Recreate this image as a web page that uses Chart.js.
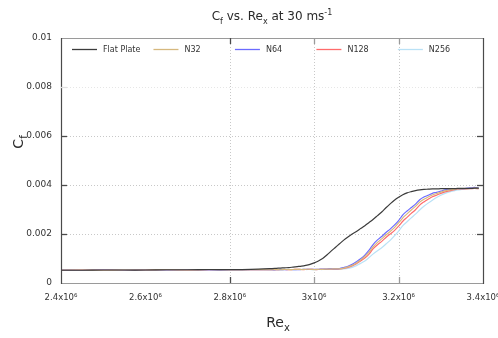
<!DOCTYPE html>
<html>
<head>
<meta charset="utf-8">
<script src="https://cdn.jsdelivr.net/npm/chart.js@4"></script>
<style>
  html, body { margin: 0; padding: 0; background: #fff; }
  #wrap { width: 498px; height: 338px; }
</style>
</head>
<body>
<div id="wrap"><canvas id="c" width="498" height="338"></canvas></div>
<script>
// Reynolds number stations along the plate
const reX = [
  2.40e6, 2.45e6, 2.50e6, 2.55e6, 2.60e6, 2.65e6, 2.70e6, 2.75e6, 2.80e6, 2.85e6,
  2.90e6, 2.91e6, 2.92e6, 2.93e6, 2.94e6, 2.95e6, 2.96e6, 2.97e6, 2.98e6, 2.99e6,
  3.00e6, 3.01e6, 3.02e6, 3.03e6, 3.04e6, 3.05e6, 3.06e6, 3.07e6, 3.08e6, 3.09e6,
  3.10e6, 3.11e6, 3.12e6, 3.13e6, 3.14e6, 3.15e6, 3.16e6, 3.17e6, 3.18e6, 3.19e6,
  3.20e6, 3.21e6, 3.22e6, 3.23e6, 3.24e6, 3.25e6, 3.26e6, 3.27e6, 3.28e6, 3.29e6,
  3.30e6, 3.31e6, 3.32e6, 3.33e6, 3.34e6, 3.35e6, 3.36e6, 3.37e6, 3.38e6, 3.39e6
];

// Skin friction coefficient, one list per case
const cfFlatPlate = [
  0.00052, 0.00052, 0.00053, 0.00053, 0.00053, 0.00054, 0.00054, 0.00055, 0.00055, 0.00056,
  0.00059, 0.00060, 0.00061, 0.00062, 0.00063, 0.00065, 0.00067, 0.00069, 0.00072, 0.00076,
  0.00082, 0.00090, 0.00100, 0.00114, 0.00130, 0.00145, 0.00160, 0.00175, 0.00188, 0.00200,
  0.00210, 0.00222, 0.00234, 0.00247, 0.00260, 0.00275, 0.00290, 0.00307, 0.00323, 0.00338,
  0.00350, 0.00360, 0.00368, 0.00373, 0.00377, 0.00380, 0.00382, 0.00383, 0.00384, 0.00384,
  0.00385, 0.00385, 0.00385, 0.00385, 0.00386, 0.00386, 0.00386, 0.00386, 0.00387, 0.00387
];
const cfN32 = [
  0.00053, 0.00053, 0.00052, 0.00053, 0.00053, 0.00054, 0.00053, 0.00054, 0.00054, 0.00055,
  0.00054, 0.00055, 0.00054, 0.00055, 0.00055, 0.00055, 0.00056, 0.00055, 0.00056, 0.00056,
  0.00055, 0.00056, 0.00056, 0.00057, 0.00057, 0.00058, 0.00058, 0.00061, 0.00066, 0.00072,
  0.00082, 0.00094, 0.00108, 0.00126, 0.00148, 0.00166, 0.00180, 0.00196, 0.00210, 0.00226,
  0.00245, 0.00266, 0.00282, 0.00298, 0.00313, 0.00330, 0.00342, 0.00351, 0.00359, 0.00365,
  0.00371, 0.00376, 0.00380, 0.00382, 0.00384, 0.00384, 0.00385, 0.00386, 0.00387, 0.00386
];
const cfN64 = [
  0.00053, 0.00052, 0.00053, 0.00052, 0.00053, 0.00053, 0.00054, 0.00053, 0.00054, 0.00054,
  0.00054, 0.00054, 0.00055, 0.00054, 0.00055, 0.00055, 0.00055, 0.00055, 0.00056, 0.00056,
  0.00056, 0.00056, 0.00057, 0.00057, 0.00058, 0.00058, 0.00059, 0.00063, 0.00068, 0.00076,
  0.00087, 0.00099, 0.00114, 0.00134, 0.00158, 0.00176, 0.00190, 0.00206, 0.00220, 0.00236,
  0.00255, 0.00278, 0.00294, 0.00308, 0.00322, 0.00340, 0.00351, 0.00358, 0.00366, 0.00370,
  0.00375, 0.00380, 0.00382, 0.00383, 0.00385, 0.00384, 0.00386, 0.00388, 0.00390, 0.00387
];
const cfN128 = [
  0.00052, 0.00053, 0.00053, 0.00052, 0.00053, 0.00054, 0.00053, 0.00054, 0.00055, 0.00054,
  0.00055, 0.00054, 0.00055, 0.00055, 0.00054, 0.00055, 0.00056, 0.00055, 0.00055, 0.00056,
  0.00055, 0.00055, 0.00056, 0.00056, 0.00057, 0.00057, 0.00058, 0.00060, 0.00064, 0.00070,
  0.00079, 0.00090, 0.00102, 0.00118, 0.00140, 0.00156, 0.00170, 0.00186, 0.00200, 0.00214,
  0.00232, 0.00252, 0.00268, 0.00284, 0.00299, 0.00318, 0.00331, 0.00342, 0.00352, 0.00358,
  0.00366, 0.00372, 0.00376, 0.00380, 0.00383, 0.00384, 0.00384, 0.00385, 0.00386, 0.00385
];
const cfN256 = [
  0.00053, 0.00052, 0.00052, 0.00053, 0.00052, 0.00053, 0.00054, 0.00054, 0.00054, 0.00055,
  0.00055, 0.00055, 0.00054, 0.00055, 0.00055, 0.00054, 0.00055, 0.00056, 0.00055, 0.00055,
  0.00054, 0.00055, 0.00055, 0.00056, 0.00056, 0.00057, 0.00057, 0.00058, 0.00060, 0.00064,
  0.00071, 0.00080, 0.00090, 0.00104, 0.00119, 0.00132, 0.00144, 0.00159, 0.00174, 0.00192,
  0.00212, 0.00234, 0.00250, 0.00266, 0.00281, 0.00298, 0.00313, 0.00326, 0.00338, 0.00349,
  0.00358, 0.00366, 0.00372, 0.00376, 0.00380, 0.00382, 0.00384, 0.00385, 0.00386, 0.00385
];

const seriesNames = ['Flat Plate', 'N32', 'N64', 'N128', 'N256'];
const seriesColors = ['#3c3c3c', '#d6b87e', '#6b6bff', '#ff6b6b', '#b9e1f6'];

// Axis ticks
const xTickValues = [2.4e6, 2.6e6, 2.8e6, 3.0e6, 3.2e6, 3.4e6];
const xTickLabels = ['2.4x10\u2076', '2.6x10\u2076', '2.8x10\u2076', '3x10\u2076', '3.2x10\u2076', '3.4x10\u2076'];
const yTickValues = [0, 0.002, 0.004, 0.006, 0.008, 0.01];
const yTickLabels = ['0', '0.002', '0.004', '0.006', '0.008', '0.01'];
// Interior grid lines
const xGridValues = [2.8e6, 3.0e6, 3.2e6];
const yGridValues = [0.002, 0.004, 0.006, 0.008];

const FONT = '"DejaVu Sans", "Liberation Sans", sans-serif';

function pts(ys) { return reX.map((x, i) => ({ x: x, y: ys[i] })); }
const allSeries = [cfFlatPlate, cfN32, cfN64, cfN128, cfN256];

// Draw a run of text pieces, some sub- or superscripted
function richText(ctx, parts, x, y, size, align) {
  const small = Math.round(size * 0.7);
  let w = 0;
  parts.forEach(p => {
    ctx.font = (p.s ? small : size) + 'px ' + FONT;
    p.w = ctx.measureText(p.t).width;
    w += p.w;
  });
  let cx = align === 'center' ? x - w / 2 : x;
  ctx.textBaseline = 'alphabetic';
  ctx.textAlign = 'left';
  parts.forEach(p => {
    ctx.font = (p.s ? small : size) + 'px ' + FONT;
    const dy = p.s === 'sub' ? size * 0.3 : (p.s === 'sup' ? -size * 0.45 : 0);
    ctx.fillText(p.t, cx, y + dy);
    cx += p.w;
  });
}

const decorPlugin = {
  id: 'decor',
  beforeDatasetsDraw(chart) {
    const { ctx, chartArea: a, scales: { x, y } } = chart;
    ctx.save();
    ctx.strokeStyle = '#c8c8c8';
    ctx.lineWidth = 1;
    ctx.setLineDash([1, 2]);
    xGridValues.forEach(v => {
      const px = Math.round(x.getPixelForValue(v)) + 0.5;
      ctx.beginPath(); ctx.moveTo(px, a.top); ctx.lineTo(px, a.bottom); ctx.stroke();
    });
    yGridValues.forEach(v => {
      const py = Math.round(y.getPixelForValue(v)) + 0.5;
      ctx.strokeStyle = v === 0.008 ? '#e6e6e6' : '#c8c8c8';
      ctx.beginPath(); ctx.moveTo(a.left, py); ctx.lineTo(a.right, py); ctx.stroke();
    });
    ctx.restore();
  },
  afterDatasetsDraw(chart) {
    const { ctx, chartArea: a, scales: { x, y } } = chart;
    ctx.save();
    // frame
    ctx.lineWidth = 1.2;
    ctx.strokeStyle = '#9a9a9a';
    ctx.beginPath(); ctx.moveTo(a.left, a.top + 0.5); ctx.lineTo(a.right, a.top + 0.5); ctx.stroke();
    ctx.beginPath(); ctx.moveTo(a.left, a.bottom + 0.5); ctx.lineTo(a.right, a.bottom + 0.5); ctx.stroke();
    ctx.strokeStyle = '#4a4a4a';
    ctx.beginPath(); ctx.moveTo(a.left + 0.5, a.top); ctx.lineTo(a.left + 0.5, a.bottom + 1); ctx.stroke();
    ctx.beginPath(); ctx.moveTo(a.right + 0.5, a.top); ctx.lineTo(a.right + 0.5, a.bottom + 1); ctx.stroke();
    // inward ticks
    ctx.lineWidth = 1.3;
    xGridValues.forEach((v, i) => {
      const px = Math.round(x.getPixelForValue(v)) + 0.5;
      ctx.strokeStyle = i === 0 ? '#4a4a4a' : '#9a9a9a';
      ctx.beginPath(); ctx.moveTo(px, a.bottom); ctx.lineTo(px, a.bottom - 6); ctx.stroke();
      ctx.beginPath(); ctx.moveTo(px, a.top); ctx.lineTo(px, a.top + 6); ctx.stroke();
    });
    yGridValues.forEach(v => {
      const py = Math.round(y.getPixelForValue(v)) + 0.5;
      ctx.strokeStyle = v === 0.008 ? '#e0e0e0' : '#4a4a4a';
      ctx.beginPath(); ctx.moveTo(a.left, py); ctx.lineTo(a.left + 6, py); ctx.stroke();
      ctx.beginPath(); ctx.moveTo(a.right, py); ctx.lineTo(a.right - 6, py); ctx.stroke();
    });
    // legend inside the top of the plot
    const ly = a.top + 11;
    const step = (a.right - a.left) / 5.18;
    seriesNames.forEach((name, i) => {
      const lx = a.left + 11 + i * step;
      ctx.strokeStyle = seriesColors[i];
      ctx.lineWidth = 1.3;
      ctx.beginPath(); ctx.moveTo(lx, ly + 0.5); ctx.lineTo(lx + 25, ly + 0.5); ctx.stroke();
      ctx.fillStyle = '#333';
      ctx.font = '8px ' + FONT;
      ctx.textAlign = 'left';
      ctx.textBaseline = 'middle';
      ctx.fillText(name, lx + 31, ly + 1);
    });
    ctx.restore();
  },
  afterDraw(chart) {
    const { ctx, chartArea: a } = chart;
    ctx.save();
    ctx.fillStyle = '#2a2a2a';
    const cx = (a.left + a.right) / 2;
    richText(ctx, [{ t: 'C' }, { t: 'f', s: 'sub' }, { t: ' vs. Re' }, { t: 'x', s: 'sub' },
                   { t: ' at 30 ms' }, { t: '-1', s: 'sup' }], cx, 20, 12, 'center');
    richText(ctx, [{ t: 'Re' }, { t: 'x', s: 'sub' }], cx + 6, 327, 14, 'center');
    ctx.translate(23, 142);
    ctx.rotate(-Math.PI / 2);
    richText(ctx, [{ t: 'C' }, { t: 'f', s: 'sub' }], 0, 0, 14, 'center');
    ctx.restore();
  }
};

new Chart(document.getElementById('c'), {
  type: 'line',
  data: {
    datasets: allSeries.map((ys, i) => ({
      label: seriesNames[i],
      data: pts(ys),
      borderColor: seriesColors[i],
      borderWidth: 1.2,
      pointRadius: 0,
      tension: 0.3,
      fill: false
    }))
  },
  options: {
    responsive: false,
    animation: false,
    layout: { padding: { top: 38, right: 0, left: 0, bottom: 0 } },
    plugins: { legend: { display: false }, title: { display: false }, tooltip: { enabled: false } },
    scales: {
      x: {
        type: 'linear',
        min: 2.4e6,
        max: 3.4e6,
        afterBuildTicks: s => { s.ticks = xTickValues.map(v => ({ value: v })); },
        afterFit: s => { s.height = 55; s.paddingLeft = 0; s.paddingRight = 15; },
        grid: { display: false, drawTicks: false },
        border: { display: false },
        ticks: {
          autoSkip: false,
          maxRotation: 0,
          padding: 10,
          color: '#333',
          font: { family: FONT, size: 8.5 },
          callback: v => { const k = xTickValues.indexOf(v); return k >= 0 ? xTickLabels[k] : ''; }
        }
      },
      y: {
        min: 0,
        max: 0.01,
        afterBuildTicks: s => { s.ticks = yTickValues.map(v => ({ value: v })); },
        afterFit: s => { s.width = 61; s.paddingTop = 0; s.paddingBottom = 0; },
        grid: { display: false, drawTicks: false },
        border: { display: false },
        ticks: {
          padding: 9,
          color: '#333',
          font: { family: FONT, size: 9 },
          callback: v => { const k = yTickValues.indexOf(v); return k >= 0 ? yTickLabels[k] : ''; }
        }
      }
    }
  },
  plugins: [decorPlugin]
});
</script>
</body>
</html>
